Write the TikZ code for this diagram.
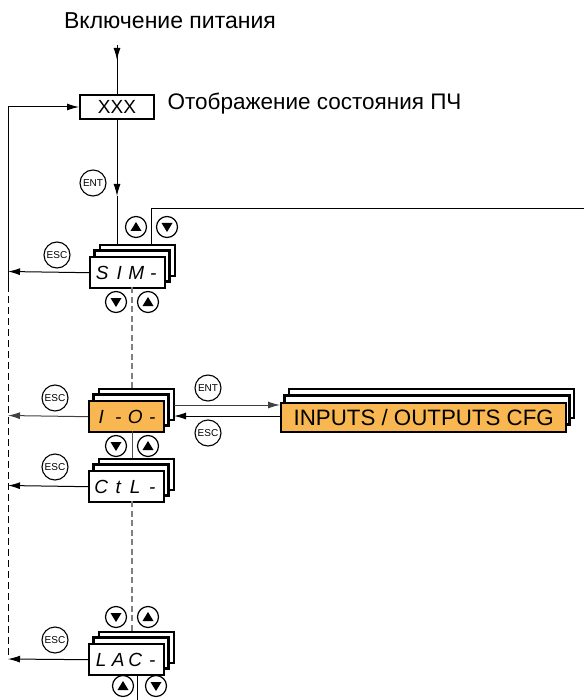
\documentclass[tikz,border=0pt]{standalone}
\usepackage{fontspec}
\setmainfont{Liberation Sans}
\usetikzlibrary{arrows.meta}
\definecolor{orng}{RGB}{248,183,80}
\newcommand\cells[4]{\makebox[17pt]{#1}\makebox[17pt]{#2}\makebox[17pt]{#3}\makebox[17pt]{#4}}
\newcommand\lcdstack[5]{%
  \draw[line width=2.4pt, fill=white] (#2+11,#3-11) rectangle ++(75,31);
  \draw[line width=2.4pt, fill=white] (#2+5.5,#3-5.5) rectangle ++(75,31);
  \node[lcd, fill=#5, anchor=north west] (#1) at (#2,#3) {#4};}
\newcommand\upbtn[3]{%
  \node[btn] (#1) at (#2,#3) {};
  \fill (#1.center) ++(0,-5) -- ++(5.5,9) -- ++(-11,0) -- cycle;}
\newcommand\dnbtn[3]{%
  \node[btn] (#1) at (#2,#3) {};
  \fill (#1.center) ++(0,5) -- ++(5.5,-9) -- ++(-11,0) -- cycle;}
\begin{document}
\begin{tikzpicture}[x=1pt,y=-1pt,
  lcd/.style={draw, line width=2.4pt, minimum width=75pt, minimum height=31pt, inner sep=0pt,
    font=\itshape\fontsize{19}{19}\selectfont},
  btn/.style={draw, circle, line width=1.2pt, minimum size=21pt, inner sep=0pt},
  key/.style={draw, circle, line width=1.1pt, minimum size=26pt, inner sep=0pt,
    font=\fontsize{10}{10}\selectfont},
  conn/.style={line width=1pt},
  arr/.style={conn, -{Latex[length=12pt,width=7pt]}},
  dashc/.style={line width=1.5pt, gray, dash pattern=on 6pt off 3.5pt},
  dashl/.style={line width=1pt, dash pattern=on 7pt off 4pt}]
\useasboundingbox (0,0) rectangle (584,700);

% title and status
\node[font=\fontsize{23}{23}\selectfont] (title) at (170,21) {Включение питания};
\node[draw, line width=2pt, minimum width=74pt, minimum height=24pt, inner sep=0pt,
  font=\fontsize{19}{19}\selectfont] (xxx) at (117,107) {XXX};
\node[anchor=west, font=\fontsize{22.5}{22.5}\selectfont] (lbl) at (164,104) {Отображение состояния ПЧ};
\coordinate (pwr) at (117,45);
\coordinate (pwrtip) at (117,60);
\draw[conn] (pwr) -- (xxx.north);
\draw[arr] (pwr) -- (pwrtip);

% left return line
\coordinate (L0) at (8,107);
\coordinate (Ls) at (8,285);
\coordinate (Le) at (8,659);
\draw[arr] (L0) -- (xxx.west);
\draw[conn] (L0) -- (Ls);
\draw[dashl] (Ls) -- (Le);

% SIM stack
\lcdstack{sim}{89}{256}{\cells{S}{I}{M}{-}}{white}
\coordinate (simin) at (117,245);
\coordinate (enttip) at (117,196);
\draw[arr] (xxx.south) -- (enttip);
\draw[conn] (enttip) -- (simin);
\node[key] (ent1) at (93,183) {ENT};
\coordinate (simout) at (151,245);
\coordinate (redge) at (584,209);
\draw[conn] (simout) |- (redge);
\upbtn{su}{136}{227}
\dnbtn{sd}{167}{227}
\node[key] (esc1) at (57,255) {ESC};
\coordinate (Lsim) at (8,271.5);
\draw[arr] (sim.west) -- (Lsim);
\dnbtn{sd2}{116}{302}
\upbtn{su2}{148}{302}
\coordinate (simbot) at (132,287);
\coordinate (iotop) at (132,389);
\draw[dashc] (simbot) -- (iotop);

% I-O stack
\lcdstack{io}{88}{400}{\cells{I}{-}{O}{-}}{orng}
\node[key] (esc2) at (55,398) {ESC};
\coordinate (Lio) at (8,415.5);
\draw[arr, black!75] (io.west) -- (Lio);
\node[key] (ent2) at (208,388) {ENT};
\node[key] (esc3) at (208,433) {ESC};

% INPUTS / OUTPUTS CFG stack
\draw[line width=2.4pt, fill=white] (289,389) rectangle ++(285,29);
\draw[line width=2.4pt, fill=white] (284.5,395.5) rectangle ++(285,29);
\node[draw, line width=2.4pt, fill=orng, anchor=north west, minimum width=285pt, minimum height=29pt,
  inner sep=0pt, font=\fontsize{22.3}{22.3}\selectfont] (cfg) at (280,402) {INPUTS / OUTPUTS CFG};
\coordinate (ioout) at (174,405);
\coordinate (cfgin) at (280,405);
\coordinate (cfgout) at (280,416);
\coordinate (ioin) at (174,416);
\draw[arr, black!75] (ioout) -- (cfgin);
\draw[arr] (cfgout) -- (ioin);

% between I-O and CtL
\coordinate (iobot) at (132,431);
\coordinate (ctltop) at (132,459);
\draw[conn, black!70] (iobot) -- (ctltop);
\dnbtn{id}{116}{446}
\upbtn{iu}{148}{446}

% CtL stack
\lcdstack{ctl}{88}{470}{\cells{C}{t}{L}{-}}{white}
\node[key] (esc4) at (55,467) {ESC};
\coordinate (Lctl) at (8,485.5);
\draw[arr] (ctl.west) -- (Lctl);
\coordinate (ctlbot) at (132,501);
\coordinate (lactop) at (132,632);
\draw[dashc] (ctlbot) -- (lactop);

% LAC stack
\dnbtn{ld}{116}{617}
\upbtn{lu}{148}{617}
\lcdstack{lac}{88}{643}{\cells{L}{A}{C}{-}}{white}
\node[key] (esc5) at (55,640) {ESC};
\draw[arr] (lac.west) -- (Le);
\coordinate (lacbot) at (137,674);
\coordinate (bottom) at (137,700);
\draw[conn] (lacbot) -- (bottom);
\upbtn{lu2}{123}{686}
\dnbtn{ld2}{156}{686}
\end{tikzpicture}
\end{document}
